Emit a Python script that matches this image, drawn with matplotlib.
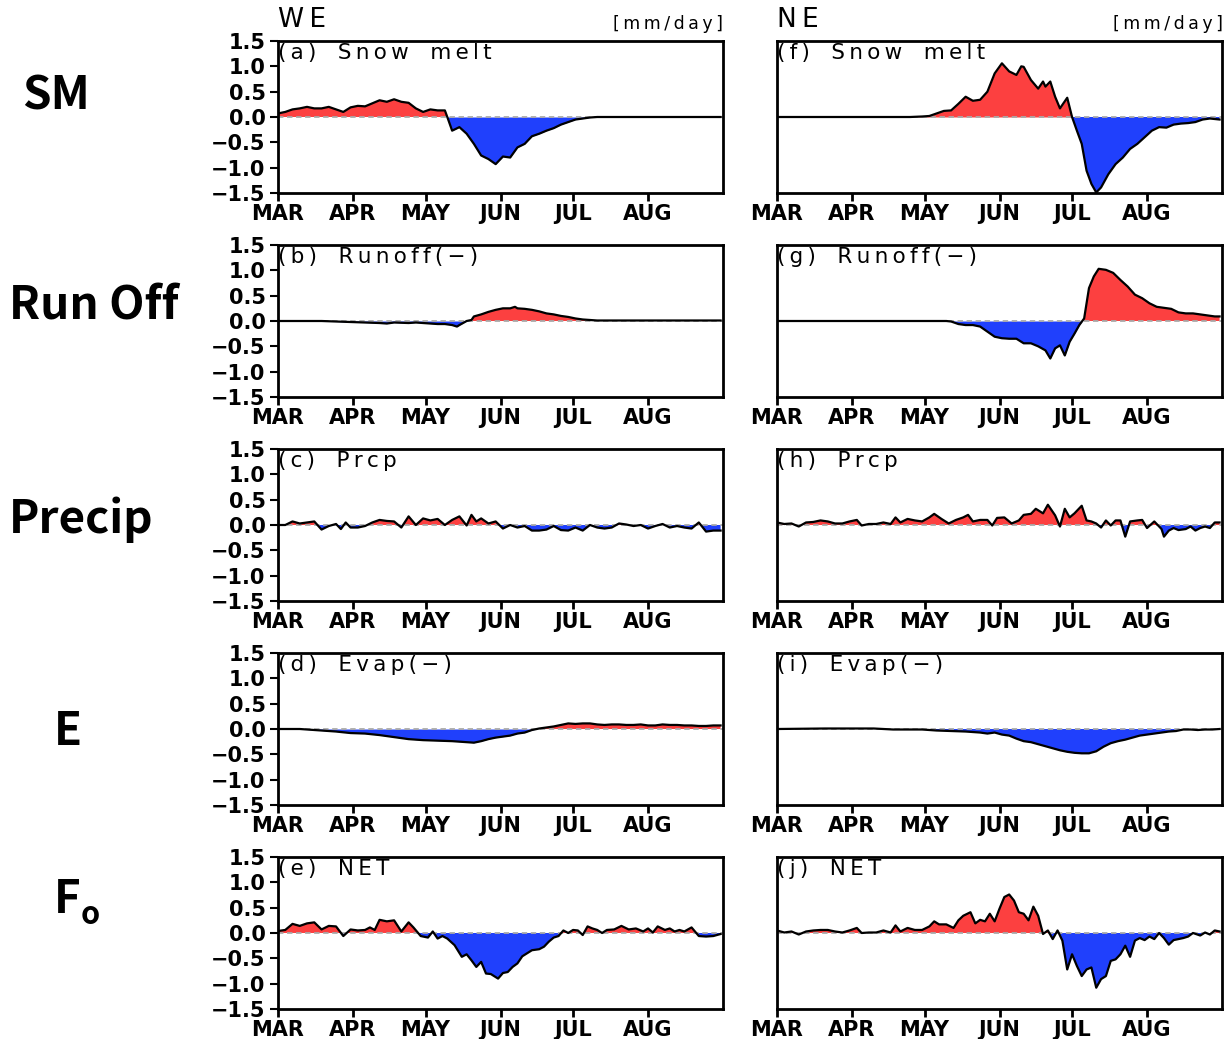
import matplotlib
matplotlib.use("Agg")
import matplotlib.pyplot as plt
import numpy as np

# days since 1 Mar, values in mm/day
we_sm_day = [0, 3, 6, 9, 12, 15, 18, 21, 24, 27, 30, 33, 36, 39, 42, 45, 48, 51, 54, 57, 60, 63, 66, 69,
             70, 72, 75, 78, 81, 84, 87, 90, 93, 96, 99, 102, 105, 108, 111, 114, 117, 120, 123, 126,
             129, 132, 150, 183]
we_sm_val = [0.07, 0.1, 0.15, 0.17, 0.2, 0.17, 0.17, 0.2, 0.15, 0.1, 0.19, 0.22, 0.21, 0.27, 0.33, 0.3,
             0.35, 0.3, 0.28, 0.17, 0.1, 0.15, 0.13, 0.13, 0.0, -0.27, -0.2, -0.33, -0.53, -0.76, -0.83,
             -0.93, -0.78, -0.8, -0.6, -0.53, -0.38, -0.33, -0.27, -0.22, -0.15, -0.1, -0.05, -0.03,
             -0.01, 0.0, 0.0, 0.0]

ne_sm_day = [0, 30, 55, 60, 63, 66, 69, 72, 75, 78, 81, 84, 87, 90, 93, 96, 99, 101, 102, 105, 108,
             110, 111, 113, 115, 117, 120, 122, 124, 126, 128, 130, 132, 134, 137, 140, 143, 146, 149,
             152, 155, 158, 161, 164, 167, 170, 173, 176, 179, 183]
ne_sm_val = [0.0, 0.0, 0.0, 0.01, 0.02, 0.07, 0.12, 0.13, 0.26, 0.4, 0.32, 0.34, 0.5, 0.86, 1.06, 0.9,
             0.83, 1.0, 0.99, 0.73, 0.56, 0.7, 0.6, 0.7, 0.4, 0.17, 0.38, 0.0, -0.27, -0.53, -1.06,
             -1.32, -1.49, -1.39, -1.13, -0.93, -0.8, -0.63, -0.53, -0.4, -0.27, -0.2, -0.21, -0.15,
             -0.13, -0.12, -0.1, -0.05, -0.03, -0.05]

we_ro_day = [0, 15, 18, 24, 30, 36, 42, 45, 48, 54, 57, 60, 63, 66, 69, 72, 74, 75, 78, 80, 81, 84, 87,
             90, 93, 96, 98, 99, 102, 105, 108, 111, 114, 117, 120, 123, 126, 129, 132, 183]
we_ro_val = [0.0, 0.0, 0.0, -0.01, -0.02, -0.03, -0.04, -0.05, -0.03, -0.04, -0.03, -0.04, -0.05,
             -0.06, -0.06, -0.08, -0.11, -0.08, 0.0, 0.02, 0.09, 0.13, 0.18, 0.22, 0.25, 0.25, 0.28,
             0.25, 0.24, 0.22, 0.19, 0.15, 0.13, 0.1, 0.08, 0.05, 0.03, 0.02, 0.01, 0.01]

ne_ro_day = [0, 70, 72, 75, 78, 81, 84, 87, 90, 93, 96, 99, 102, 105, 108, 111, 113, 115, 117, 119, 121,
             123, 125, 127, 129, 131, 133, 136, 139, 142, 145, 148, 151, 154, 157, 160, 163, 166, 169,
             172, 175, 178, 181, 183]
ne_ro_val = [0.0, 0.0, -0.01, -0.06, -0.08, -0.08, -0.11, -0.21, -0.31, -0.34, -0.35, -0.35, -0.44,
             -0.44, -0.5, -0.58, -0.74, -0.54, -0.48, -0.68, -0.41, -0.25, -0.08, 0.05, 0.65, 0.88,
             1.03, 1.01, 0.95, 0.81, 0.68, 0.52, 0.45, 0.35, 0.28, 0.26, 0.24, 0.17, 0.15, 0.15, 0.13,
             0.11, 0.09, 0.09]

we_pr_day = [0, 3, 6, 9, 12, 15, 18, 21, 24, 26, 28, 30, 33, 36, 39, 42, 45, 48, 51, 54, 57, 60, 63,
             66, 69, 72, 75, 78, 80, 82, 84, 87, 90, 93, 96, 99, 102, 105, 108, 111, 114, 117, 120,
             123, 126, 129, 132, 135, 138, 141, 144, 147, 150, 153, 156, 159, 162, 165, 168, 171, 174,
             177, 180, 183]
we_pr_val = [0.0, 0.0, 0.07, 0.03, 0.05, 0.07, -0.09, -0.02, 0.02, -0.08, 0.05, -0.05, -0.05, -0.02,
             0.05, 0.1, 0.08, 0.07, -0.05, 0.17, 0.0, 0.13, 0.09, 0.12, 0.0, 0.1, 0.17, -0.01, 0.2, 0.07,
             0.13, 0.03, 0.07, -0.07, 0.0, -0.05, -0.02, -0.11, -0.11, -0.09, -0.02, -0.1, -0.11, -0.05,
             -0.11, 0.0, -0.05, -0.07, -0.05, 0.03, 0.01, -0.02, 0.0, -0.07, -0.02, 0.02, -0.05, -0.02,
             -0.05, -0.07, 0.05, -0.13, -0.11, -0.11]

ne_pr_day = [0, 3, 6, 9, 12, 15, 18, 21, 24, 27, 30, 33, 35, 38, 41, 44, 47, 49, 51, 54, 57, 60, 63,
             65, 68, 71, 74, 77, 79, 81, 84, 87, 89, 91, 94, 97, 100, 102, 105, 107, 110, 112, 115, 117,
             119, 121, 123, 126, 128, 130, 132, 134, 136, 138, 140, 142, 144, 146, 149, 151, 153, 156,
             159, 160, 162, 164, 166, 169, 171, 173, 175, 177, 179, 181, 183]
ne_pr_val = [0.05, 0.02, 0.03, -0.03, 0.05, 0.06, 0.09, 0.07, 0.03, 0.03, 0.07, 0.1, -0.01, 0.02, 0.02,
             0.05, 0.02, 0.15, 0.05, 0.12, 0.09, 0.07, 0.15, 0.22, 0.12, 0.03, 0.1, 0.15, 0.2, 0.07, 0.1,
             0.1, -0.01, 0.14, 0.15, 0.03, 0.09, 0.2, 0.22, 0.32, 0.23, 0.4, 0.19, -0.03, 0.32, 0.15,
             0.23, 0.38, 0.09, 0.07, 0.03, -0.05, 0.09, -0.01, 0.09, 0.09, -0.23, 0.07, 0.09, 0.1, -0.06,
             0.07, -0.08, -0.23, -0.11, -0.06, -0.1, -0.08, -0.03, -0.11, -0.06, -0.03, -0.06, 0.05, 0.05]

we_ev_day = [0, 9, 18, 24, 30, 36, 42, 48, 54, 60, 66, 72, 78, 81, 84, 87, 90, 93, 96, 99, 102, 105,
             108, 111, 114, 117, 120, 123, 126, 129, 132, 135, 138, 141, 144, 147, 150, 153, 156, 159,
             162, 165, 168, 171, 174, 177, 180, 183]
we_ev_val = [0.0, 0.0, -0.03, -0.05, -0.08, -0.09, -0.12, -0.16, -0.2, -0.22, -0.23, -0.24, -0.26,
             -0.27, -0.24, -0.2, -0.17, -0.15, -0.13, -0.09, -0.07, -0.02, 0.01, 0.03, 0.05, 0.08, 0.11,
             0.1, 0.11, 0.11, 0.09, 0.08, 0.09, 0.09, 0.08, 0.08, 0.09, 0.07, 0.07, 0.09, 0.08, 0.08,
             0.07, 0.07, 0.06, 0.06, 0.07, 0.07]

ne_ev_day = [0, 20, 40, 48, 60, 66, 72, 78, 84, 87, 90, 93, 96, 99, 102, 105, 108, 111, 114, 117, 120,
             123, 126, 129, 132, 135, 138, 141, 144, 147, 150, 153, 156, 159, 162, 165, 168, 171, 174,
             177, 180, 183]
ne_ev_val = [0.0, 0.01, 0.01, -0.01, -0.01, -0.03, -0.04, -0.05, -0.07, -0.09, -0.07, -0.11, -0.13,
             -0.19, -0.24, -0.26, -0.3, -0.34, -0.38, -0.42, -0.45, -0.47, -0.48, -0.48, -0.44, -0.35,
             -0.28, -0.24, -0.21, -0.17, -0.13, -0.11, -0.09, -0.07, -0.05, -0.04, -0.01, -0.01, -0.02,
             -0.01, -0.01, 0.0]

we_net_day = [0, 3, 6, 9, 12, 15, 18, 21, 24, 27, 30, 33, 36, 38, 40, 42, 45, 48, 51, 54, 56, 59, 62,
              64, 66, 68, 70, 73, 76, 78, 80, 82, 84, 86, 88, 90, 91, 93, 95, 97, 99, 101, 103, 105,
              108, 110, 112, 114, 116, 118, 120, 122, 124, 126, 128, 130, 132, 134, 136, 139, 142, 145,
              148, 151, 153, 155, 157, 160, 162, 164, 166, 168, 171, 174, 177, 180, 183]
we_net_val = [0.04, 0.06, 0.18, 0.14, 0.19, 0.21, 0.07, 0.14, 0.13, -0.06, 0.07, 0.05, 0.06, 0.11,
              0.06, 0.26, 0.23, 0.25, 0.03, 0.21, 0.11, -0.06, -0.09, 0.03, -0.11, -0.06, -0.11, -0.24,
              -0.47, -0.42, -0.54, -0.67, -0.57, -0.8, -0.81, -0.87, -0.9, -0.79, -0.77, -0.67, -0.6,
              -0.46, -0.4, -0.34, -0.32, -0.27, -0.17, -0.09, -0.06, 0.05, 0.0, 0.06, 0.05, -0.04, 0.13,
              0.09, 0.06, 0.0, 0.06, 0.07, 0.14, 0.07, 0.09, 0.03, 0.09, 0.01, 0.13, 0.06, 0.09, 0.03,
              0.06, 0.03, 0.11, -0.06, -0.07, -0.06, -0.02]

ne_net_day = [0, 3, 6, 9, 12, 15, 18, 21, 24, 27, 30, 33, 35, 38, 41, 44, 47, 49, 51, 54, 57, 60, 63,
              65, 67, 70, 73, 75, 77, 80, 82, 84, 86, 88, 90, 92, 94, 96, 98, 100, 102, 104, 106, 108,
              110, 112, 114, 116, 118, 120, 122, 124, 126, 128, 130, 132, 134, 136, 138, 140, 142, 144,
              146, 148, 150, 152, 154, 156, 158, 160, 162, 164, 166, 168, 170, 172, 175, 177, 179, 181,
              183]
ne_net_val = [0.05, 0.01, 0.03, -0.03, 0.03, 0.05, 0.06, 0.06, 0.03, 0.01, 0.05, 0.1, 0.0, 0.01, 0.01,
              0.05, 0.01, 0.15, 0.03, 0.1, 0.06, 0.06, 0.13, 0.23, 0.17, 0.17, 0.1, 0.25, 0.34, 0.41,
              0.19, 0.26, 0.23, 0.38, 0.23, 0.48, 0.71, 0.76, 0.64, 0.41, 0.38, 0.25, 0.52, 0.34, -0.02,
              0.05, -0.12, 0.05, -0.15, -0.72, -0.42, -0.65, -0.85, -0.72, -0.68, -1.08, -0.91, -0.85,
              -0.55, -0.52, -0.42, -0.25, -0.47, -0.15, -0.1, -0.14, -0.07, -0.12, 0.0, -0.1, -0.23,
              -0.14, -0.12, -0.1, -0.07, 0.0, -0.05, 0.01, -0.03, 0.05, 0.03]

month_day = [0, 31, 61, 92, 122, 153]
month_lab = ['MAR', 'APR', 'MAY', 'JUN', 'JUL', 'AUG']
yticks = [-1.5, -1.0, -0.5, 0.0, 0.5, 1.0, 1.5]
ytick_lab = ['\u22121.5', '\u22121.0', '\u22120.5', '0.0', '0.5', '1.0', '1.5']

panels = [
    ['(a) Snow melt', we_sm_day, we_sm_val], ['(f) Snow melt', ne_sm_day, ne_sm_val],
    ['(b) Runoff(\u2212)', we_ro_day, we_ro_val], ['(g) Runoff(\u2212)', ne_ro_day, ne_ro_val],
    ['(c) Prcp', we_pr_day, we_pr_val], ['(h) Prcp', ne_pr_day, ne_pr_val],
    ['(d) Evap(\u2212)', we_ev_day, we_ev_val], ['(i) Evap(\u2212)', ne_ev_day, ne_ev_val],
    ['(e) NET', we_net_day, we_net_val], ['(j) NET', ne_net_day, ne_net_val],
]
row_names = ['SM', 'Run Off', 'Precip', 'E', 'F']
row_x = [22, 9, 9, 54, 54]
row_y = [97, 307, 520, 732, 900]

RED = '#fc4040'
BLUE = '#2040fc'
LABEL_FONT = ['Noto Sans CJK KR', 'DejaVu Sans']


def spaced(s):
    # GrADS-like wide lettering: thin space between letters, wide gaps between words
    words = s.split(' ')
    return '\u2003'.join('\u2009'.join(w) for w in words)


def draw(ax, title, day, val, left):
    day = np.array(day, dtype=float)
    val = np.array(val, dtype=float)
    ax.fill_between(day, val, 0, where=val >= 0, interpolate=True, color=RED, lw=0)
    ax.fill_between(day, val, 0, where=val <= 0, interpolate=True, color=BLUE, lw=0)
    ax.axhline(0, color='#aaaaaa', ls='--', lw=1.3, dashes=(3, 2))
    ax.plot(day, val, color='black', lw=1.6)
    ax.set_xlim(0, 184)
    ax.set_ylim(-1.5, 1.5)
    ax.set_xticks(month_day)
    ax.set_xticklabels(month_lab, fontsize=15, fontweight='bold', family='DejaVu Sans')
    ax.tick_params(axis='x', direction='out', length=6, width=2, pad=2)
    if left:
        ax.set_yticks(yticks)
        ax.set_yticklabels(ytick_lab, fontsize=15, fontweight='bold', family='DejaVu Sans')
        ax.tick_params(axis='y', direction='out', length=6, width=1.5, pad=3)
    else:
        ax.set_yticks([])
    for s in ax.spines.values():
        s.set_linewidth(2)
    ax.text(0.0, 0.985, spaced(title), transform=ax.transAxes, ha='left', va='top',
            fontsize=15.5, family='DejaVu Sans')


fig = plt.figure(figsize=(12.27, 10.39), dpi=100)
W = 1227.0
H = 1039.0
lefts = [278, 777]
tops = [41, 245, 449, 653, 857]

for i in range(10):
    r = i // 2
    c = i % 2
    ax = fig.add_axes([lefts[c] / W, 1 - (tops[r] + 152) / H, 445 / W, 152 / H])
    draw(ax, panels[i][0], panels[i][1], panels[i][2], c == 0)

fig.text(278 / W, 1 - 20 / H, spaced('WE'), fontsize=19, family='DejaVu Sans', va='center')
fig.text(777 / W, 1 - 20 / H, spaced('NE'), fontsize=19, family='DejaVu Sans', va='center')
fig.text(723 / W, 1 - 24 / H, spaced('[mm/day]'), fontsize=12.5, family='DejaVu Sans',
         ha='right', va='center')
fig.text(1223 / W, 1 - 24 / H, spaced('[mm/day]'), fontsize=12.5, family='DejaVu Sans',
         ha='right', va='center')

for r in range(5):
    fig.text(row_x[r] / W, 1 - row_y[r] / H, row_names[r], fontsize=33, fontweight='bold',
             family=LABEL_FONT, va='center', ha='left')
fig.text(81 / W, 1 - 915 / H, 'o', fontsize=22, fontweight='bold', family=LABEL_FONT,
         va='center', ha='left')

fig.savefig('out.png', dpi=100)
